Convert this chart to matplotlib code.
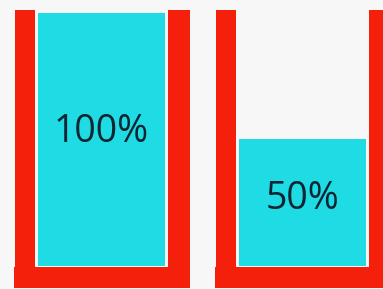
import matplotlib.pyplot as plt

# fill levels of the two containers (percent)
positions = [0, 1]
levels = [100, 50]
labels = ['100%', '50%']

red = '#f4200c'
cyan = '#1fdce4'
bg = '#f8f7f8'

fig = plt.figure(figsize=(3.83, 2.89), dpi=100, facecolor=bg)
ax = fig.add_axes([0, 0, 1, 1])
ax.set_facecolor(bg)

# x: one unit = distance between containers, y: percent of fill
ax.set_xlim(-0.505, 1.40)
ax.set_ylim(-9.1, 105.1)
ax.axis('off')

for x, v, lab in zip(positions, levels, labels):
    # container walls
    ax.bar(x - 0.38, 109.8, width=0.10, bottom=-8.7, color=red)
    ax.bar(x + 0.385, 109.8, width=0.11, bottom=-8.7, color=red)
    ax.bar(x, 8.2, width=0.87, bottom=-8.7, color=red)
    # fill
    ax.bar(x, v, width=0.63, bottom=0, color=cyan)
    ax.text(x, v / 2 + 3 * v / 100, lab, ha='center', va='center', fontsize=27,
            family='Open Sans', color='#0d2433')

fig.savefig('out.png', dpi=100, facecolor=bg)
